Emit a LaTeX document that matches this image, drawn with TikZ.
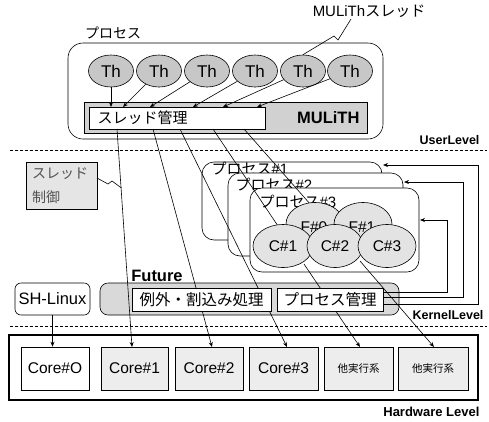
\documentclass[tikz,border=0pt]{standalone}
\usepackage{fontspec}
\setmainfont{Liberation Sans}
\newfontfamily\jp{Noto Sans CJK JP}
\usetikzlibrary{arrows.meta,shapes.geometric}
\begin{document}
\begin{tikzpicture}[x=1pt,y=-1pt,
  arr/.style={-{Stealth[length=5pt,width=4pt]}, line width=0.6pt},
  ln/.style={line width=0.6pt},
  levelline/.style={line width=0.8pt, dash pattern=on 3pt off 2pt},
  box/.style={draw, line width=0.6pt, inner sep=0pt},
  th/.style={ellipse, draw, line width=0.6pt, fill=black!22, minimum width=45pt, minimum height=32pt, inner sep=0pt, font=\fontsize{17}{17}\selectfont},
  ce/.style={ellipse, draw, line width=0.6pt, fill=black!11, minimum width=58pt, minimum height=43pt, inner sep=0pt, font=\fontsize{15.5}{16}\selectfont},
  core/.style={box, fill=black!7, minimum height=43pt, font=\fontsize{15.5}{16}\selectfont},
  proc/.style={box, fill=white, rounded corners=12pt},
  lvl/.style={anchor=east, font=\bfseries\fontsize{12.5}{13}\selectfont},
  ctltext/.style={inner sep=0pt, text=black!68, font=\jp\fontsize{14}{14}\selectfont}
]
\useasboundingbox (0,0) rectangle (489,421);

% ---------- user level ----------
\node[box, fill=white, rounded corners=15pt, minimum width=315pt, minimum height=96pt] (proc0) at (225.5,91) {};
\node[anchor=center, font=\jp\fontsize{14}{14}\selectfont] (proclbl) at (113,33) {プロセス};
\node[box, fill=black!18, minimum width=283pt, minimum height=31pt] (mgrout) at (225.5,117.5) {};
\node[box, fill=white, minimum width=176pt, minimum height=22pt] (mgr) at (177,118) {};
\node[anchor=west, font=\jp\fontsize{15}{15}\selectfont] (mgrtxt) at (94,118) {スレッド管理};
\node[anchor=east, font=\bfseries\fontsize{16.5}{17}\selectfont] (mulith) at (363,118) {MULiTH};

\node[th] (th1) at (111,71) {Th};
\node[th] (th2) at (159,71) {Th};
\node[th] (th3) at (207,71) {Th};
\node[th] (th4) at (255,71) {Th};
\node[th] (th5) at (303,71) {Th};
\node[th] (th6) at (350,71) {Th};

\coordinate (t1) at (111,107);
\coordinate (t2) at (123,107);
\coordinate (t3) at (150,107);
\coordinate (t4) at (193,107);
\coordinate (t5) at (223,107);
\coordinate (t6) at (257,107);
\draw[arr] (th1) -- (t1);
\draw[arr] (th2) -- (t2);
\draw[arr] (th3) -- (t3);
\draw[arr] (th4) -- (t4);
\draw[arr] (th5) -- (t5);
\draw[arr] (th6) -- (t6);

\node[font=\fontsize{15}{15}\selectfont] (mthlbl) at (369,11) {MULiTh{\jp スレッド}};
\coordinate (z1) at (351,19);
\coordinate (z2) at (338,40);
\coordinate (z3) at (334,36);
\draw[ln] (z1) -- (z2) -- (z3) -- (th5.north);

% ---------- level lines ----------
\coordinate (ul1) at (10,150);
\coordinate (ul2) at (487,150);
\draw[levelline] (ul1) -- (ul2);
\node[lvl] (userlvl) at (483,140) {UserLevel};
\coordinate (kl1) at (10,326);
\coordinate (kl2) at (487,326);
\draw[levelline] (kl1) -- (kl2);
\node[lvl] (kernlvl) at (487,315) {KernelLevel};
\node[lvl, font=\bfseries\fontsize{13}{13}\selectfont] (hwlvl) at (483,412) {Hardware Level};

% ---------- thread control note ----------
\node[box, fill=black!10, minimum width=71pt, minimum height=47pt] (ctl) at (61.5,185.5) {};
\node[ctltext, anchor=west] (ctl1) at (32,174) {スレッド};
\node[ctltext, anchor=west] (ctl2) at (32,197) {制御};

% ---------- kernel ----------
\node[box, fill=black!15, rounded corners=8pt, minimum width=299pt, minimum height=32pt] (future) at (249.5,299) {};
\node[anchor=center, font=\bfseries\fontsize{16.5}{17}\selectfont] (futlbl) at (157,275.5) {Future};
\node[box, fill=white, rounded corners=6pt, minimum width=75pt, minimum height=32pt, font=\fontsize{16.5}{17}\selectfont] (sh) at (52.5,299) {SH-Linux};

\node[proc, minimum width=180pt, minimum height=78pt] (p1) at (292,201) {};
\node[anchor=west, font=\jp\fontsize{15}{15}\selectfont] (p1lbl) at (208,169) {プロセス{\rmfamily\#1}};
\node[proc, minimum width=175pt, minimum height=83pt] (p2) at (315.5,214.5) {};
\node[anchor=west, font=\jp\fontsize{15}{15}\selectfont] (p2lbl) at (232,185) {プロセス{\rmfamily\#2}};
\node[proc, minimum width=169pt, minimum height=84pt] (p3) at (334.5,230) {};
\node[anchor=west, font=\jp\fontsize{15}{15}\selectfont] (p3lbl) at (256,202) {プロセス{\rmfamily\#3}};

% ---------- hardware ----------
\node[draw, line width=2pt, minimum width=469pt, minimum height=65pt, inner sep=0pt] (hw) at (243.5,367.5) {};
\node[box, fill=white, minimum width=68pt, minimum height=43pt, font=\fontsize{15.5}{16}\selectfont] (core0) at (55,368.5) {Core\#O};
\node[core, minimum width=67pt] (core1) at (134.5,368.5) {Core\#1};
\node[core, minimum width=68pt] (core2) at (209,368.5) {Core\#2};
\node[core, minimum width=69pt] (core3) at (283.5,368.5) {Core\#3};
\node[core, minimum width=69pt, font=\jp\fontsize{10.5}{11}\selectfont] (oth1) at (358.5,368.5) {他実行系};
\node[core, minimum width=70pt, font=\jp\fontsize{10.5}{11}\selectfont] (oth2) at (433,368.5) {他実行系};

% ---------- connectors ----------
\coordinate (a0) at (117,129);
\coordinate (a1) at (132,347);
\coordinate (b0) at (153,129);
\coordinate (b1) at (212,347);
\coordinate (c0) at (180,129);
\coordinate (c1) at (287,347);
\coordinate (d0) at (213,129);
\coordinate (d1) at (278,226);
\coordinate (e0) at (244,129);
\coordinate (e1) at (311,205);
\coordinate (f0) at (304,264);
\coordinate (f1) at (360,347);
\coordinate (g0) at (360,261);
\coordinate (g1) at (434,347);
\draw[arr] (a0) -- (a1);
\draw[arr] (b0) -- (b1);
\draw[arr] (c0) -- (c1);
\draw[ln] (d0) -- (d1);
\draw[ln] (e0) -- (e1);
\draw[arr] (f0) -- (f1);
\draw[arr] (g0) -- (g1);
\draw[arr] (sh.south) -- (sh.south |- core0.north);

\coordinate (y1) at (97,178);
\coordinate (y2) at (108,184);
\coordinate (y3) at (112,181);
\coordinate (y4) at (121.5,188);
\draw[ln] (y1) -- (y2) -- (y3) -- (y4);

% ellipses inside process #3
\node[ce] (f0e) at (315,224) {};
\node[font=\fontsize{15.5}{16}\selectfont] (f0t) at (314,227) {F\#0};
\node[ce] (f1e) at (363,224) {};
\node[font=\fontsize{15.5}{16}\selectfont] (f1t) at (362,227) {F\#1};
\node[ce, minimum width=60pt] (c1e) at (283,246) {C\#1};
\node[ce, minimum width=56pt] (c2e) at (335,246) {C\#2};
\node[ce, minimum width=58pt] (c3e) at (387,246) {C\#3};

% kernel inner boxes
\node[box, fill=white, minimum width=139pt, minimum height=23pt, font=\jp\fontsize{15.5}{16}\selectfont] (exc) at (201.5,299.5) {例外・割込み処理};
\node[box, fill=white, minimum width=106pt, minimum height=23pt, font=\jp\fontsize{15.5}{16}\selectfont] (pm) at (330,299.5) {プロセス管理};

% feedback arrows
\coordinate (r1a) at (383,292);
\coordinate (r1b) at (447,220);
\coordinate (r1c) at (420,220);
\coordinate (r2a) at (383,297);
\coordinate (r2b) at (463,182);
\coordinate (r2c) at (404,182);
\coordinate (r3a) at (383,304);
\coordinate (r3b) at (478,165);
\coordinate (r3c) at (383,165);
\draw[arr] (r1a) -| (r1b) -- (r1c);
\draw[arr] (r2a) -| (r2b) -- (r2c);
\draw[arr] (r3a) -| (r3b) -- (r3c);
\end{tikzpicture}
\end{document}
